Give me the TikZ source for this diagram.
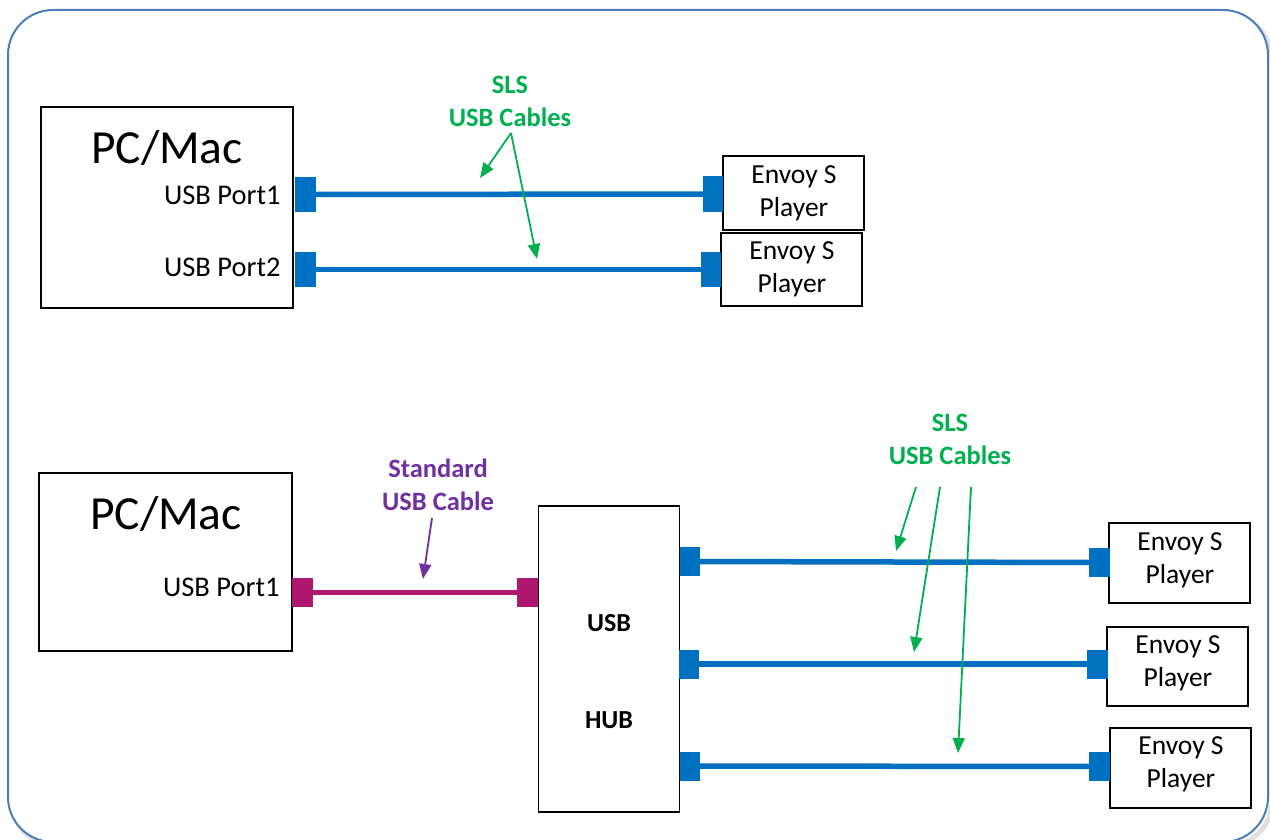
\documentclass[tikz,border=0pt]{standalone}
\usepackage{fontspec}
\setmainfont{Carlito}
\usetikzlibrary{arrows.meta}
\definecolor{cblue}{HTML}{0070C0}
\definecolor{cmag}{HTML}{AD1770}
\definecolor{cpurple}{HTML}{7030A0}
\definecolor{cgreen}{HTML}{00B050}
\definecolor{frame}{HTML}{4A7EBB}
\tikzset{
  box/.style={draw=black, line width=1.6pt, inner sep=0pt, fill=white},
  plug/.style={fill=#1, draw=none, inner sep=0pt, minimum width=21pt},
  cable/.style={draw=#1, line width=5.5pt},
  big/.style={font=\fontsize{47.5}{50}\selectfont},
  port/.style={font=\fontsize{28.5}{30}\selectfont, anchor=east},
  envoy/.style={font=\fontsize{27.5}{33}\selectfont, align=center},
  label/.style={font=\bfseries\fontsize{26.5}{33}\selectfont, align=center, text=#1},
  hubtext/.style={font=\bfseries\fontsize{26}{28}\selectfont},
  pointer/.style={draw=#1, line width=1.8pt, -{Triangle[length=15pt,width=12pt]}},
}
\begin{document}
\begin{tikzpicture}[x=1pt,y=-1pt]
\useasboundingbox (0,0) rectangle (1270,840);
% frame with soft shadow
\draw[black!12, line width=5pt, rounded corners=45pt] (12,15) rectangle (1272,846);
\draw[frame, line width=2pt, fill=white, rounded corners=45pt] (8,10) rectangle (1268,842);

% ---------- top section ----------
\node[box, minimum width=252pt, minimum height=201pt] (pc1) at (167,207.5) {};
\node[big] (pc1t) at (167,148) {PC/Mac};
\node[port] (p1) at (284,195) {USB Port1};
\node[port] (p2) at (284,267) {USB Port2};

\node[box, minimum width=141pt, minimum height=74pt] (e1) at (793.5,193) {};
\node[envoy] (e1t) at (794,193.5) {Envoy S\\Player};
\node[box, minimum width=141pt, minimum height=73pt] (e2) at (791.5,269.5) {};
\node[envoy] (e2t) at (792,269.5) {Envoy S\\Player};

\node[plug=cblue, minimum height=35pt] (a1) at (305,194.5) {};
\node[plug=cblue, minimum width=20pt, minimum height=36pt] (b1) at (713,194) {};
\node[plug=cblue, minimum height=35pt] (a2) at (305,269.5) {};
\node[plug=cblue, minimum width=20pt, minimum height=35pt] (b2) at (711,269.5) {};
\draw[cable=cblue] (a1.center) -- (b1.center);
\draw[cable=cblue] (a2.center) -- (b2.center);

\node[label=cgreen] (sls1) at (510,101) {SLS\\USB Cables};
\coordinate (g0) at (511,133);
\coordinate (g1) at (480,178);
\coordinate (g2) at (537,259);
\draw[pointer=cgreen] (g0) -- (g1);
\draw[pointer=cgreen] (g0) -- (g2);

% ---------- bottom section ----------
\node[box, minimum width=253pt, minimum height=178pt] (pc2) at (165.5,562) {};
\node[big] (pc2t) at (166,514) {PC/Mac};
\node[port] (p3) at (283,587) {USB Port1};

\node[box, minimum width=141pt, minimum height=306pt] (hub) at (609,659) {};
\node[hubtext] (hubu) at (609,623) {USB};
\node[hubtext] (hubh) at (609,720) {HUB};

\node[plug=cmag, minimum height=29pt] (m1) at (302.5,592.5) {};
\node[plug=cmag, minimum height=29pt] (m2) at (527.5,592.5) {};
\draw[cable=cmag] (m1.center) -- (m2.center);

\node[label=cpurple] (std) at (438,485) {Standard\\USB Cable};
\coordinate (q0) at (432,518);
\coordinate (q1) at (423,579);
\draw[pointer=cpurple] (q0) -- (q1);

\node[box, minimum width=141pt, minimum height=80pt] (e3) at (1179.5,563) {};
\node[envoy] (e3t) at (1180,560.5) {Envoy S\\Player};
\node[box, minimum width=141pt, minimum height=79pt] (e4) at (1177.5,666.5) {};
\node[envoy] (e4t) at (1178,663.5) {Envoy S\\Player};
\node[box, minimum width=141pt, minimum height=80pt] (e5) at (1180.5,768) {};
\node[envoy] (e5t) at (1181,764.5) {Envoy S\\Player};

\node[plug=cblue, minimum width=20pt, minimum height=29pt] (h1) at (690,561.5) {};
\node[plug=cblue, minimum width=20pt, minimum height=29pt] (h2) at (689,664) {};
\node[plug=cblue, minimum width=20pt, minimum height=29pt] (h3) at (690,766) {};
\node[plug=cblue, minimum height=29pt] (r1) at (1099.5,562.5) {};
\node[plug=cblue, minimum height=29pt] (r2) at (1097.5,664) {};
\node[plug=cblue, minimum height=29pt] (r3) at (1099.5,766.5) {};
\draw[cable=cblue] (h1.center) -- (r1.center);
\draw[cable=cblue] (h2.center) -- (r2.center);
\draw[cable=cblue] (h3.center) -- (r3.center);

\node[label=cgreen] (sls2) at (950,439) {SLS\\USB Cables};
\coordinate (k1s) at (916,487);
\coordinate (k2s) at (940,487);
\coordinate (k3s) at (971,487);
\coordinate (k1) at (896,551);
\coordinate (k2) at (914,652);
\coordinate (k3) at (958,753);
\draw[pointer=cgreen] (k1s) -- (k1);
\draw[pointer=cgreen] (k2s) -- (k2);
\draw[pointer=cgreen] (k3s) -- (k3);
\end{tikzpicture}
\end{document}
